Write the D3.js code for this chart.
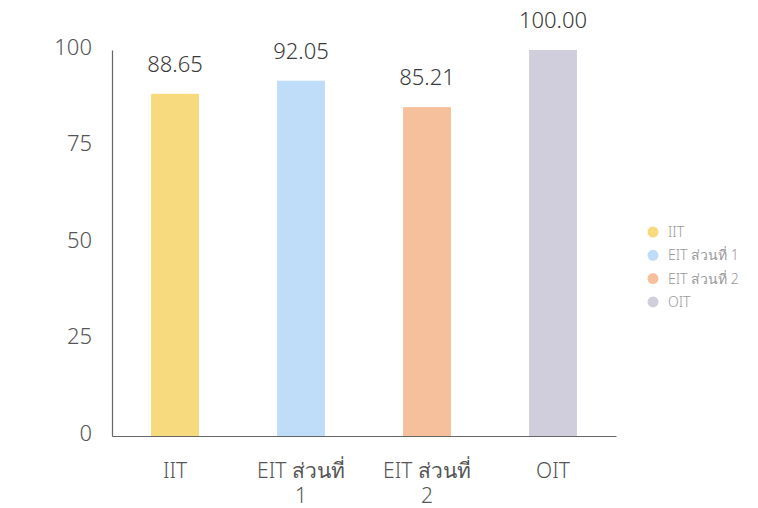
<!DOCTYPE html>
<html>
<head>
<meta charset="utf-8">
<script src="https://cdn.jsdelivr.net/npm/d3@7"></script>
<style>
  body { margin: 0; background: #fff; }
  svg { font-family: "Noto Sans", "Open Sans", sans-serif; }
</style>
</head>
<body>
<div class="chart"></div>
<script>
"use strict";

const categories = ["IIT", "EIT ส่วนที่ 1", "EIT ส่วนที่ 2", "OIT"];
const axisLabels = [["IIT"], ["EIT ส่วนที่", "1"], ["EIT ส่วนที่", "2"], ["OIT"]];
const values = [88.65, 92.05, 85.21, 100.0];
const colors = ["#f8da7e", "#bfddf8", "#f7c09c", "#d0cedd"];
const yTicks = [0, 25, 50, 75, 100];

const width = 758;
const height = 508;

const svg = d3
  .select(".chart")
  .append("svg")
  .attr("width", width)
  .attr("height", height);

const x = d3
  .scaleBand()
  .domain(categories)
  .range([112, 616])
  .paddingInner(0.62)
  .paddingOuter(0.31);

const y = d3.scaleLinear().domain([0, 100]).range([436, 50]);

// bars
svg
  .append("g")
  .selectAll("rect")
  .data(values)
  .join("rect")
  .attr("x", (d, i) => x(categories[i]))
  .attr("y", (d) => y(d))
  .attr("width", x.bandwidth())
  .attr("height", (d) => y(0) - y(d))
  .attr("fill", (d, i) => colors[i]);

// value labels
svg
  .append("g")
  .selectAll("text")
  .data(values)
  .join("text")
  .attr("x", (d, i) => x(categories[i]) + x.bandwidth() / 2)
  .attr("y", (d) => y(d) - 22)
  .attr("text-anchor", "middle")
  .attr("font-size", "22px")
  .attr("font-weight", 300)
  .attr("fill", "#3a3a3a")
  .text((d) => d.toFixed(2));

// y axis
const yAxis = d3
  .axisLeft(y)
  .tickValues(yTicks)
  .tickSize(0)
  .tickPadding(20);

svg
  .append("g")
  .attr("transform", "translate(112,0)")
  .call(yAxis)
  .call((g) => g.select(".domain").attr("stroke", "#666").attr("stroke-width", 1.2))
  .call((g) =>
    g
      .selectAll(".tick text")
      .attr("font-size", "22px")
      .attr("font-weight", 300)
      .attr("fill", "#555")
      .attr("dy", "0.2em")
      .attr("font-family", "Noto Sans, sans-serif")
  );

// x axis
const xAxis = d3.axisBottom(x).tickSize(0).tickFormat("");
svg
  .append("g")
  .attr("transform", `translate(0,${y(0)})`)
  .call(xAxis)
  .call((g) => g.select(".domain").attr("stroke", "#666").attr("stroke-width", 1.2));

const xLabels = svg
  .append("g")
  .selectAll("text")
  .data(categories)
  .join("text")
  .attr("x", (d) => x(d) + x.bandwidth() / 2)
  .attr("y", 478)
  .attr("text-anchor", "middle")
  .attr("font-size", "21px")
  .attr("font-weight", 300)
  .attr("fill", "#555");

xLabels
  .selectAll("tspan")
  .data((d, i) => axisLabels[i])
  .join("tspan")
  .attr("x", function () {
    return d3.select(this.parentNode).attr("x");
  })
  .attr("dy", (d, i) => (i === 0 ? 0 : 25))
  .text((d) => d);

// legend
const legend = svg
  .append("g")
  .selectAll("g")
  .data(categories)
  .join("g")
  .attr("transform", (d, i) => `translate(653,${232 + i * 23.3})`);

legend
  .append("circle")
  .attr("r", 5.5)
  .attr("fill", (d, i) => colors[i]);

legend
  .append("text")
  .attr("x", 15)
  .attr("dy", "0.35em")
  .attr("font-size", "14px")
  .attr("font-weight", 300)
  .attr("fill", "#999")
  .text((d) => d);
</script>
</body>
</html>
